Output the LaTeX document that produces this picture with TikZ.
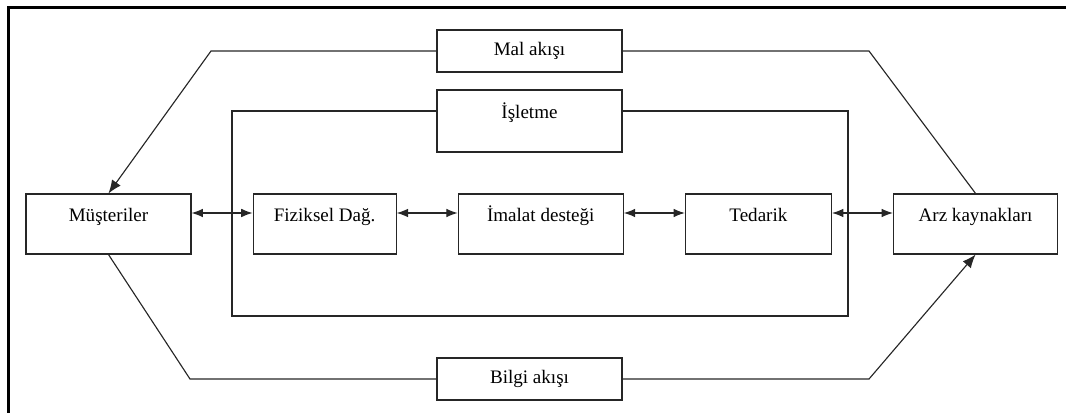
\documentclass[tikz,border=0pt]{standalone}
\usepackage{fontspec}
\setmainfont{Liberation Serif}
\usetikzlibrary{arrows.meta, positioning}

\begin{document}
\begin{tikzpicture}[x=0.75pt, y=-0.75pt, node distance=45.75pt,
        font=\fontsize{14.3}{16}\selectfont,
        kutu/.style={rectangle, draw=black!85, fill=white, line width=0.85pt, minimum height=45pt, text height=10pt, text depth=13.4pt},
        akis/.style={rectangle, draw=black!85, fill=white, line width=0.85pt, minimum width=138.75pt, minimum height=31.5pt},
        line/.style={draw=black!85, line width=0.85pt},
        cift/.style={line, {Latex[length=8.5pt,width=6.5pt]}-{Latex[length=8.5pt,width=6.5pt]}},
        tek/.style={line, -{Latex[length=10pt,width=8pt]}}]

        \useasboundingbox (0,0) rectangle (1066,413);

        % Frame
        \draw[line width=2.25pt] (8,413) -- (8,8) -- (1066,8);

        % Enterprise area
        \node [draw=black!85, line width=0.85pt, minimum width=462pt, minimum height=153.75pt] (alan) at (540,213.5) {};

        % Nodes
        \node [kutu, minimum width=123.75pt] (mus) at (108.5,224) {Müşteriler};
        \node [kutu, minimum width=107.25pt, right=of mus] (fiz) {Fiziksel Dağ.};
        \node [kutu, minimum width=123.75pt, right=of fiz] (ima) {İmalat desteği};
        \node [kutu, minimum width=109.5pt, right=of ima] (ted) {Tedarik};
        \node [kutu, minimum width=123pt, right=of ted] (arz) {Arz kaynakları};
        \node [kutu, minimum width=138.75pt, minimum height=46.5pt] (isl) at (529.5,121) {İşletme};
        \node [akis] (mal) at (529.5,51) {Mal akışı};
        \node [akis] (bilgi) at (529.5,379) {Bilgi akışı};

        % Corners of the flows
        \coordinate (malsol) at (211,51);
        \coordinate (malsag) at (869,51);
        \coordinate (bilsol) at (190,379);
        \coordinate (bilsag) at (869,379);

        % Arrows
        \foreach \a/\b in {mus/fiz, fiz/ima, ima/ted, ted/arz}
            \path [cift] ([yshift=8.25pt]\a.east) -- ([yshift=8.25pt]\b.west);
        \path [tek] (mal.west) -- (malsol) -- (mus.north);
        \path [line] (mal.east) -- (malsag) -- (arz.north);
        \path [line] (mus.south) -- (bilsol) -- (bilgi.west);
        \path [tek] (bilgi.east) -- (bilsag) -- (arz.south);
    \end{tikzpicture}
\end{document}
